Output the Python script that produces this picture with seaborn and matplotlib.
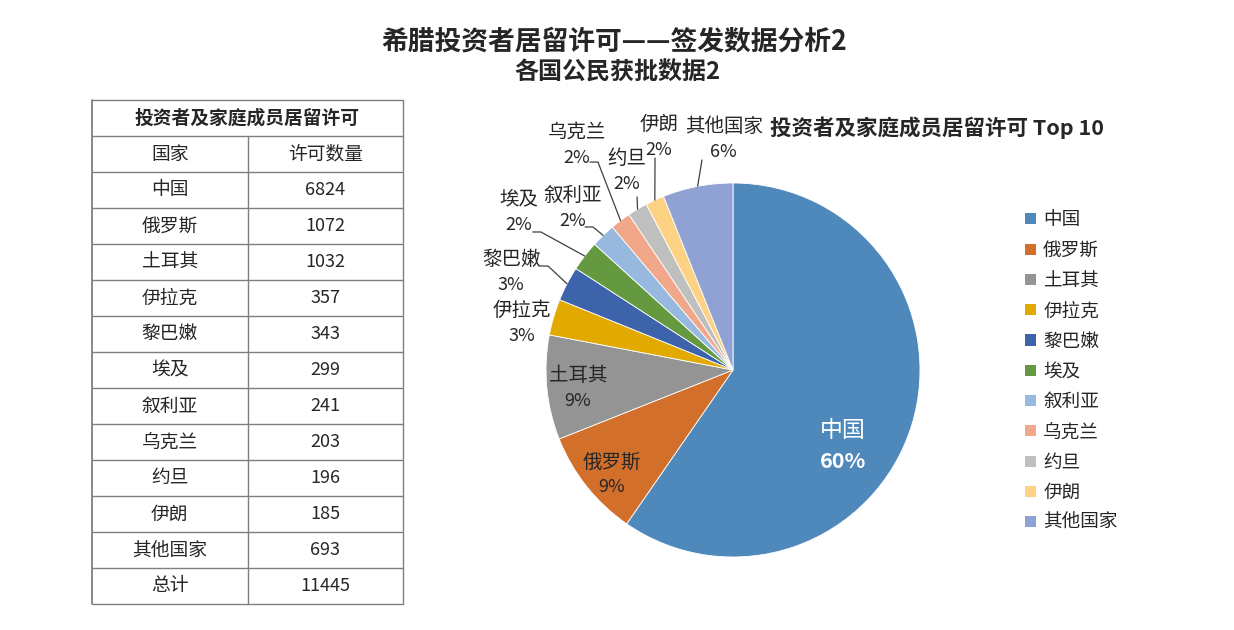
import numpy as np
import pandas as pd
import seaborn as sns
import matplotlib
matplotlib.use("Agg")
import matplotlib.pyplot as plt
from matplotlib.patches import Patch

# ---------------- data ----------------
countries = ['中国', '俄罗斯', '土耳其', '伊拉克', '黎巴嫩', '埃及', '叙利亚', '乌克兰', '约旦', '伊朗', '其他国家']
permits = [6824, 1072, 1032, 357, 343, 299, 241, 203, 196, 185, 693]
total_label = '总计'
total_value = 11445
pct_labels = ['60%', '9%', '9%', '3%', '3%', '2%', '2%', '2%', '2%', '2%', '6%']
table_title = '投资者及家庭成员居留许可'
table_header = ['国家', '许可数量']
title = '希腊投资者居留许可——签发数据分析2'
subtitle = '各国公民获批数据2'
pie_title = '投资者及家庭成员居留许可 Top 10'

# ---------------- styles / layout ----------------
colors = ['#4F89BC', '#D26F2B', '#949494', '#E2AA00', '#3D64AB', '#64993F',
          '#98B9DF', '#F1A78A', '#BFBFBF', '#FED284', '#8FA2D3']
# label centres in pie units (radius = 1)
label_pos = [(0.588, -0.406), (-0.647, -0.56), (-0.829, -0.10), (-1.128, 0.251),
             (-1.187, 0.524), (-1.144, 0.845), (-0.856, 0.866), (-0.834, 1.203),
             (-0.567, 1.064), (-0.395, 1.246), (-0.05, 1.235)]
# leader line anchors (start, elbow) for outside labels
leaders = {4: [(-1.032, 0.556), (-0.989, 0.556)],
           5: [(-1.070, 0.738), (-1.027, 0.738)],
           6: [(-0.791, 0.765), (-0.749, 0.765)],
           7: [(-0.765, 1.112), (-0.722, 1.112)],
           8: [(-0.513, 0.925)],
           9: [(-0.417, 1.134)],
           10: [(-0.166, 1.123)]}

sns.set_theme(style='white')
plt.rcParams['font.family'] = ['Noto Sans CJK SC', 'DejaVu Sans']

W, H = 1234, 630
fig = plt.figure(figsize=(W / 100, H / 100), dpi=100)
fig.patch.set_facecolor('white')

# ---------------- titles ----------------
fig.text(614 / W, 1 - 42 / H, title, ha='center', va='center', fontsize=19.3, fontweight='bold')
fig.text(617 / W, 1 - 73 / H, subtitle, ha='center', va='center', fontsize=17.3, fontweight='bold')

# ---------------- table ----------------
tax = fig.add_axes([92 / W, 1 - 604 / H, 311 / W, 504 / H])
nrows = 2 + len(countries) + 1
tax.set_xlim(0, 1)
tax.set_ylim(nrows, 0)
tax.axis('off')
line_c = '#7F7F7F'
for r in range(nrows + 1):
    tax.plot([0, 1], [r, r], color=line_c, lw=1, solid_capstyle='butt', clip_on=False)
tax.plot([0, 0], [0, nrows], color=line_c, lw=1.3, clip_on=False)
tax.plot([1, 1], [0, nrows], color=line_c, lw=1, clip_on=False)
tax.plot([0.5, 0.5], [1, nrows], color=line_c, lw=1, clip_on=False)
fs_t = 13.5
tax.text(0.5, 0.5, table_title, ha='center', va='center', fontsize=fs_t, fontweight='bold')
tax.text(0.25, 1.5, table_header[0], ha='center', va='center', fontsize=fs_t)
tax.text(0.75, 1.5, table_header[1], ha='center', va='center', fontsize=fs_t)
rows = list(zip(countries, permits)) + [(total_label, total_value)]
for i, (c, v) in enumerate(rows):
    y = 2.5 + i
    tax.text(0.25, y, c, ha='center', va='center', fontsize=fs_t)
    tax.text(0.75, y, str(v), ha='center', va='center', fontsize=fs_t - 0.5)

# ---------------- pie ----------------
a = 1.4
R = 187
side = 2 * a * R
cx, cy = 733, 370
pax = fig.add_axes([(cx - side / 2) / W, (H - cy - side / 2) / H, side / W, side / H])
wedges, _ = pax.pie(permits, colors=colors, startangle=90, counterclock=False,
                    wedgeprops=dict(edgecolor='white', linewidth=0.6))
pax.set_xlim(-a, a)
pax.set_ylim(-a, a)
pax.set_aspect('equal')
pax.axis('off')

fs_l = 14.0
for i, (name, pct) in enumerate(zip(countries, pct_labels)):
    x, y = label_pos[i]
    if i == 0:
        pax.text(x, y + 0.085, name, ha='center', va='center', fontsize=16.5, color='white')
        pax.text(x, y - 0.085, pct, ha='center', va='center', fontsize=15.5, color='white', fontweight='bold')
    else:
        pax.text(x, y + 0.068, name, ha='center', va='center', fontsize=fs_l, color='#262626')
        pax.text(x, y - 0.068, pct, ha='center', va='center', fontsize=fs_l - 1, color='#262626')
    if i in leaders:
        w = wedges[i]
        mid = np.deg2rad((w.theta1 + w.theta2) / 2)
        edge = (np.cos(mid), np.sin(mid))
        pts = leaders[i] + [edge]
        xs, ys = zip(*pts)
        pax.plot(xs, ys, color='#404040', lw=0.9)

fig.text(937 / W, 1 - 128 / H, pie_title, ha='center', va='center', fontsize=15.5, fontweight='bold')

# ---------------- legend ----------------
handles = [Patch(facecolor=c, edgecolor='none', label=n) for c, n in zip(colors, countries)]
fig.legend(handles=handles, loc='upper left', bbox_to_anchor=(1018 / W, 1 - 204 / H),
           frameon=False, fontsize=13.4, handlelength=0.55, handleheight=0.55,
           handletextpad=0.4, labelspacing=0.66, borderaxespad=0)

fig.savefig('out.png', dpi=100, facecolor='white')
